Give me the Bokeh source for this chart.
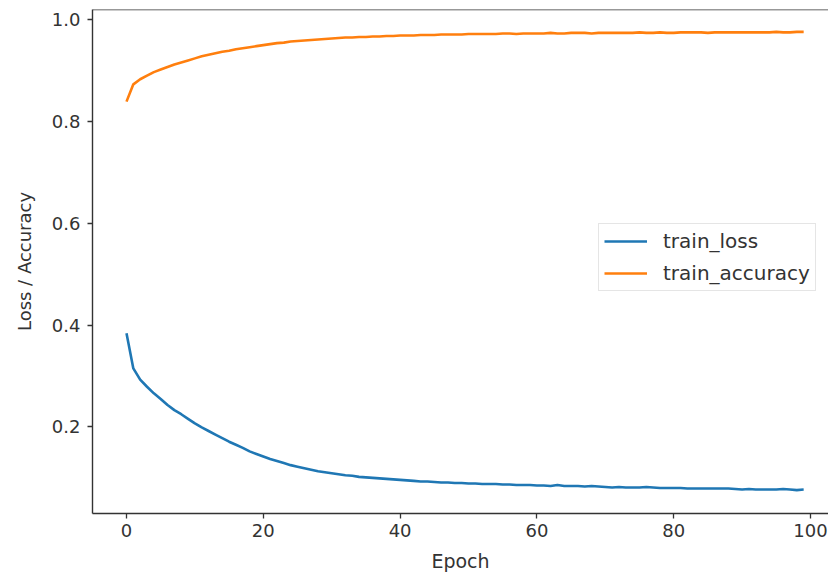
from bokeh.plotting import figure
from bokeh.models import Legend, LegendItem, FixedTicker, Span, Range1d, ColumnDataSource, PrintfTickFormatter
from bokeh.embed import file_html
from bokeh.resources import INLINE

epochs = list(range(100))
train_loss = [
    0.384, 0.315, 0.293, 0.279, 0.266, 0.255, 0.243, 0.233, 0.225, 0.216,
    0.207, 0.199, 0.192, 0.185, 0.178, 0.171, 0.165, 0.159, 0.152, 0.147,
    0.142, 0.137, 0.133, 0.129, 0.125, 0.122, 0.119, 0.116, 0.113, 0.111,
    0.109, 0.107, 0.105, 0.104, 0.102, 0.101, 0.100, 0.099, 0.098, 0.097,
    0.096, 0.095, 0.094, 0.093, 0.093, 0.092, 0.091, 0.091, 0.090, 0.090,
    0.089, 0.089, 0.088, 0.088, 0.088, 0.087, 0.087, 0.086, 0.086, 0.086,
    0.085, 0.085, 0.084, 0.086, 0.084, 0.084, 0.084, 0.083, 0.084, 0.083,
    0.082, 0.081, 0.082, 0.081, 0.081, 0.081, 0.082, 0.081, 0.080, 0.080,
    0.080, 0.080, 0.079, 0.079, 0.079, 0.079, 0.079, 0.079, 0.079, 0.078,
    0.077, 0.078, 0.077, 0.077, 0.077, 0.077, 0.078, 0.077, 0.076, 0.077,
]
train_accuracy = [
    0.839, 0.873, 0.883, 0.890, 0.897, 0.902, 0.907, 0.912, 0.916, 0.920,
    0.924, 0.928, 0.931, 0.934, 0.937, 0.939, 0.942, 0.944, 0.946, 0.948,
    0.950, 0.952, 0.954, 0.955, 0.957, 0.958, 0.959, 0.960, 0.961, 0.962,
    0.963, 0.964, 0.965, 0.965, 0.966, 0.966, 0.967, 0.967, 0.968, 0.968,
    0.969, 0.969, 0.969, 0.970, 0.970, 0.970, 0.971, 0.971, 0.971, 0.971,
    0.972, 0.972, 0.972, 0.972, 0.972, 0.973, 0.973, 0.972, 0.973, 0.973,
    0.973, 0.973, 0.974, 0.973, 0.973, 0.974, 0.974, 0.974, 0.973, 0.974,
    0.974, 0.974, 0.974, 0.974, 0.974, 0.975, 0.974, 0.974, 0.975, 0.974,
    0.974, 0.975, 0.975, 0.975, 0.975, 0.974, 0.975, 0.975, 0.975, 0.975,
    0.975, 0.975, 0.975, 0.975, 0.975, 0.976, 0.975, 0.975, 0.976, 0.976,
]
x_ticks = [0, 20, 40, 60, 80, 100]
y_ticks = [0.2, 0.4, 0.6, 0.8, 1.0]
series_names = ["train_loss", "train_accuracy"]
series_colors = ["#1f77b4", "#ff7f0e"]

source = ColumnDataSource(dict(epoch=epochs, loss=train_loss, acc=train_accuracy))

FONT = "DejaVu Sans"
p = figure(width=828, height=574, output_backend="svg", toolbar_location=None,
           x_range=Range1d(-4.97, 102.63), y_range=Range1d(0.03, 1.02),
           min_border_left=92, min_border_right=0, min_border_top=9, min_border_bottom=60)
p.outline_line_color = None
p.xgrid.visible = False
p.ygrid.visible = False
p.background_fill_color = "white"
p.border_fill_color = "white"

r1 = p.line("epoch", "loss", source=source, line_color=series_colors[0], line_width=2.6)
r2 = p.line("epoch", "acc", source=source, line_color=series_colors[1], line_width=2.6)

# top spine
p.add_layout(Span(location=1.02, dimension="width", line_color="#333333", line_width=1.4))

for ax in (p.xaxis[0], p.yaxis[0]):
    ax.axis_line_color = "#333333"
    ax.axis_line_width = 1.4
    ax.major_tick_line_color = "#333333"
    ax.major_tick_line_width = 1.3
    ax.major_tick_out = 5
    ax.major_tick_in = 0
    ax.minor_tick_line_color = None
    ax.major_label_text_font = FONT
    ax.major_label_text_font_size = "18px"
    ax.major_label_text_color = "#333333"
    ax.axis_label_text_font = FONT
    ax.axis_label_text_color = "#333333"
    ax.axis_label_text_font_style = "normal"

p.xaxis[0].ticker = FixedTicker(ticks=x_ticks)
p.yaxis[0].ticker = FixedTicker(ticks=y_ticks)
p.yaxis[0].formatter = PrintfTickFormatter(format="%.1f")
p.xaxis[0].axis_label = "Epoch"
p.yaxis[0].axis_label = "Loss / Accuracy"
p.xaxis[0].axis_label_text_font_size = "19px"
p.yaxis[0].axis_label_text_font_size = "18px"
p.xaxis[0].major_label_standoff = 5
p.xaxis[0].axis_label_standoff = 10
p.yaxis[0].major_label_standoff = 7
p.yaxis[0].axis_label_standoff = 14

legend = Legend(items=[LegendItem(label=series_names[0], renderers=[r1]),
                       LegendItem(label=series_names[1], renderers=[r2])],
                location=(506, 222))
legend.label_text_font = FONT
legend.label_text_font_size = "20px"
legend.label_text_color = "#333333"
legend.border_line_color = "#cccccc"
legend.border_line_width = 1
legend.background_fill_alpha = 0.9
legend.glyph_width = 43
legend.glyph_height = 22
legend.label_height = 22
legend.label_standoff = 16
legend.spacing = 8
legend.padding = 5
legend.margin = 0
p.add_layout(legend, "center")

open("out.html", "w").write(file_html(p, INLINE))
